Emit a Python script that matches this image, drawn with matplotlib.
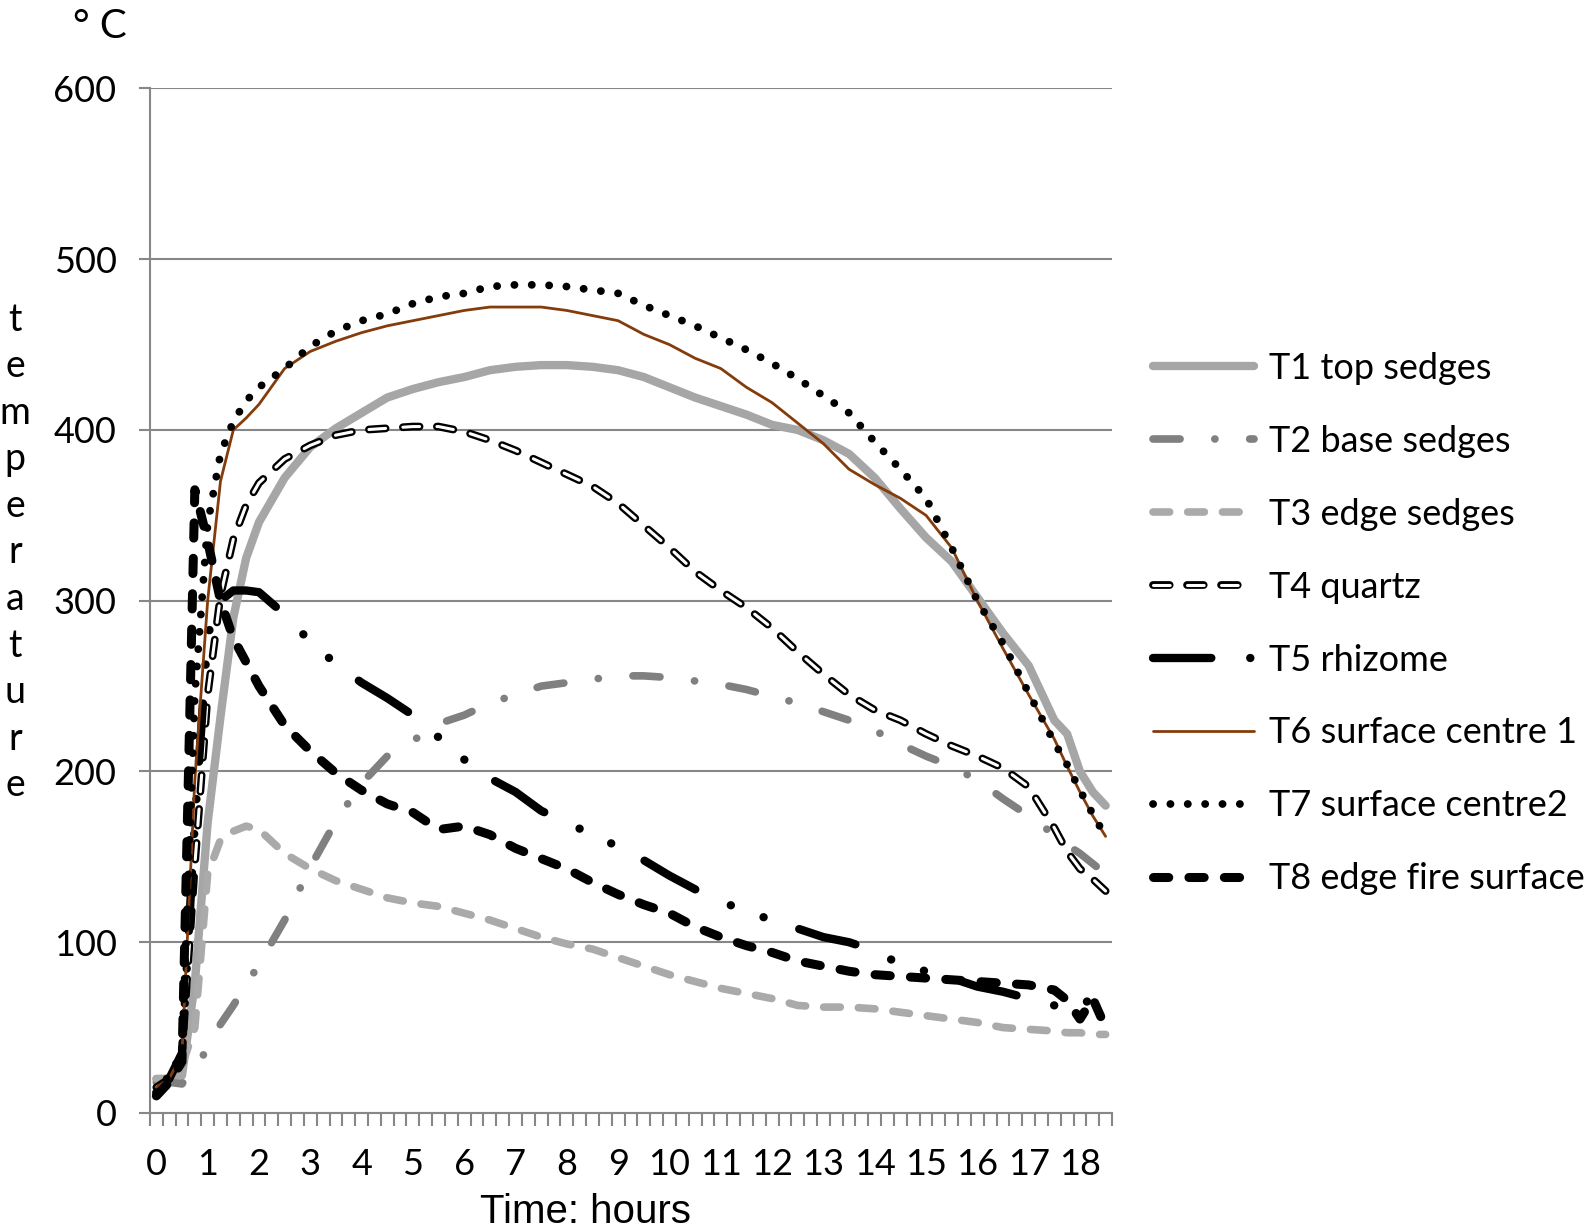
import numpy as np
import matplotlib
matplotlib.use("Agg")
import matplotlib.pyplot as plt
from matplotlib.legend_handler import HandlerTuple

# --- data ---
hours = [0, 0.25, 0.5, 0.75, 1, 1.25, 1.5, 1.75, 2,
         2.5, 3, 3.5, 4, 4.5, 5, 5.5, 6, 6.5, 7, 7.5, 8, 8.5, 9, 9.5, 10,
         10.5, 11, 11.5, 12, 12.5, 13, 13.5, 14, 14.5, 15, 15.5, 16, 16.5,
         17, 17.5, 17.75, 18, 18.25, 18.5]

t1_top_sedges = [20, 20, 22, 76, 170, 232, 290, 325, 346,
                 372, 390, 401, 410, 419, 424, 428, 431, 435, 437, 438, 438, 437, 435, 431, 425,
                 419, 414, 409, 403, 400, 394, 386, 372, 354, 337, 323, 302, 281,
                 262, 230, 222, 200, 188, 180]
t2_base_sedges = [18, 18, 17, 28, 37, 52, 63, 75, 87,
                  113, 144, 171, 193, 209, 218, 228, 233, 240, 245, 250, 252, 254, 256, 256, 255,
                  253, 251, 248, 244, 240, 235, 230, 224, 216, 209, 203, 195, 184,
                  174, 163, 157, 152, 146, 140]
t3_edge_sedges = [20, 20, 28, 50, 140, 160, 165, 168, 166,
                  152, 143, 136, 131, 126, 123, 121, 117, 113, 108, 103, 99, 96, 91, 86, 81,
                  77, 73, 70, 67, 63, 62, 62, 61, 59, 57, 55, 53, 50,
                  49, 48, 47, 47, 46, 46]
t4_quartz = [15, 20, 35, 145, 245, 303, 336, 356, 369,
             383, 391, 397, 400, 401, 402, 402, 399, 394, 388, 381, 374, 367, 357, 344, 331,
             317, 306, 296, 284, 270, 257, 245, 236, 230, 222, 215, 209, 202,
             191, 167, 153, 143, 137, 130]
t5_rhizome = [12, 20, 35, 170, 280, 300, 306, 306, 305,
              292, 276, 263, 252, 243, 233, 220, 207, 196, 188, 177, 170, 163, 156, 148, 139,
              131, 124, 118, 113, 108, 103, 100, 95, 87, 83, 79, 74, 71,
              67, 63, 62, 62, 68, 55]
t6_centre1 = [15, 20, 35, 195, 300, 370, 400, 407, 415,
              436, 446, 452, 457, 461, 464, 467, 470, 472, 472, 472, 470, 467, 464, 456, 450,
              442, 436, 425, 416, 404, 392, 377, 368, 360, 350, 331, 300, 272,
              245, 219, 203, 188, 174, 162]
t7_centre2 = [12, 22, 35, 245, 345, 386, 405, 417, 425,
              436, 449, 458, 464, 468, 474, 478, 480, 484, 485, 485, 484, 482, 480, 473, 467,
              461, 454, 447, 439, 430, 420, 410, 393, 377, 360, 331, 300, 275,
              246, 217, 204, 189, 175, 162]
t8_edge_fire = [10, 18, 30, 365, 335, 300, 278, 264, 250,
                227, 212, 199, 189, 181, 176, 166, 168, 163, 155, 149, 143, 135, 128, 122, 117,
                109, 103, 98, 94, 89, 86, 83, 81, 80, 79, 78, 77, 76,
                75, 72, 66, 55, 67, 50]

labels = ["T1 top sedges", "T2 base sedges", "T3 edge sedges", "T4 quartz",
          "T5 rhizome", "T6 surface centre 1", "T7 surface centre2",
          "T8 edge fire surface"]

# --- style ---
plt.rcParams['font.family'] = ['Lato', 'DejaVu Sans']
plt.rcParams['lines.scale_dashes'] = False
GRID = "#878787"

fig = plt.figure(figsize=(15.95, 12.29), dpi=100)
ax = fig.add_axes([0.094, 0.0944, 0.6032, 0.8336])

kw = dict(dash_capstyle='round', solid_capstyle='round', solid_joinstyle='round')

l1, = ax.plot(hours, t1_top_sedges, color="#A6A6A6", lw=6.0, zorder=3, **kw)
l2, = ax.plot(hours, t2_base_sedges, color="#808080", lw=5.5, zorder=4,
              dashes=(19.5, 25, 0.1, 25), **kw)
l3, = ax.plot(hours, t3_edge_sedges, color="#AAAAAA", lw=5.5, zorder=5,
              dashes=(12, 13), **kw)
l4a, = ax.plot(hours, t4_quartz, color="black", lw=5.6, zorder=6,
               dashes=(12, 12.5), **kw)
l4b, = ax.plot(hours, t4_quartz, color="white", lw=2.2, zorder=6.1,
               dashes=(12, 12.5), **kw)
l5, = ax.plot(hours, t5_rhizome, color="black", lw=6.0, zorder=7,
              dashes=(42, 28, 0.1, 25, 0.1, 27), **kw)
l6, = ax.plot(hours, t6_centre1, color="#843C0C", lw=2.0, zorder=8, **kw)
l7, = ax.plot(hours, t7_centre2, color="black", lw=5.6, zorder=9,
              dashes=(0.1, 12.4), **kw)
l8, = ax.plot(hours, t8_edge_fire, color="black", lw=6.5, zorder=10,
              dashes=(11, 14.5), **kw)

# --- axes ---
ax.set_xlim(-0.125, 18.625)
ax.set_ylim(0, 600)
ax.set_yticks(np.arange(0, 601, 100))
ax.set_xticks(np.arange(0, 19, 1))
ax.set_xticks(np.arange(-0.125, 18.7, 0.25), minor=True)
ax.tick_params(axis='x', which='major', length=0, pad=25, labelsize=26)
ax.tick_params(axis='x', which='minor', length=9, width=1.5, color=GRID, direction='out')
ax.tick_params(axis='y', which='major', length=8, width=1.5, color=GRID,
               direction='out', pad=16, labelsize=26)
ax.yaxis.grid(True, color=GRID, lw=1.5)
ax.set_axisbelow(True)
for s in ['top', 'right']:
    ax.spines[s].set_visible(False)
for s in ['left', 'bottom']:
    ax.spines[s].set_color(GRID)
    ax.spines[s].set_linewidth(1.5)

# --- labels ---
fig.text(0.367, 0.005, "Time: hours", family="Liberation Sans", fontsize=29,
         ha='center', va='baseline')
fig.text(0.0455, 0.969, "° C", fontsize=29, ha='left', va='baseline')
word = "temperature"
for i, ch in enumerate(word):
    fig.text(0.0095, 0.740 - i * 0.0379, ch, fontsize=27, ha='center', va='center')

ax.legend([l1, l2, l3, (l4a, l4b), l5, l6, l7, l8], labels,
          handler_map={tuple: HandlerTuple(ndivide=1, pad=0)},
          loc='upper left', bbox_to_anchor=(0.7227, 0.7136),
          bbox_transform=fig.transFigure, frameon=False, fontsize=26,
          handlelength=2.8, handletextpad=0.42, labelspacing=1.105,
          borderpad=0, borderaxespad=0)

fig.savefig("out.png", dpi=100)
